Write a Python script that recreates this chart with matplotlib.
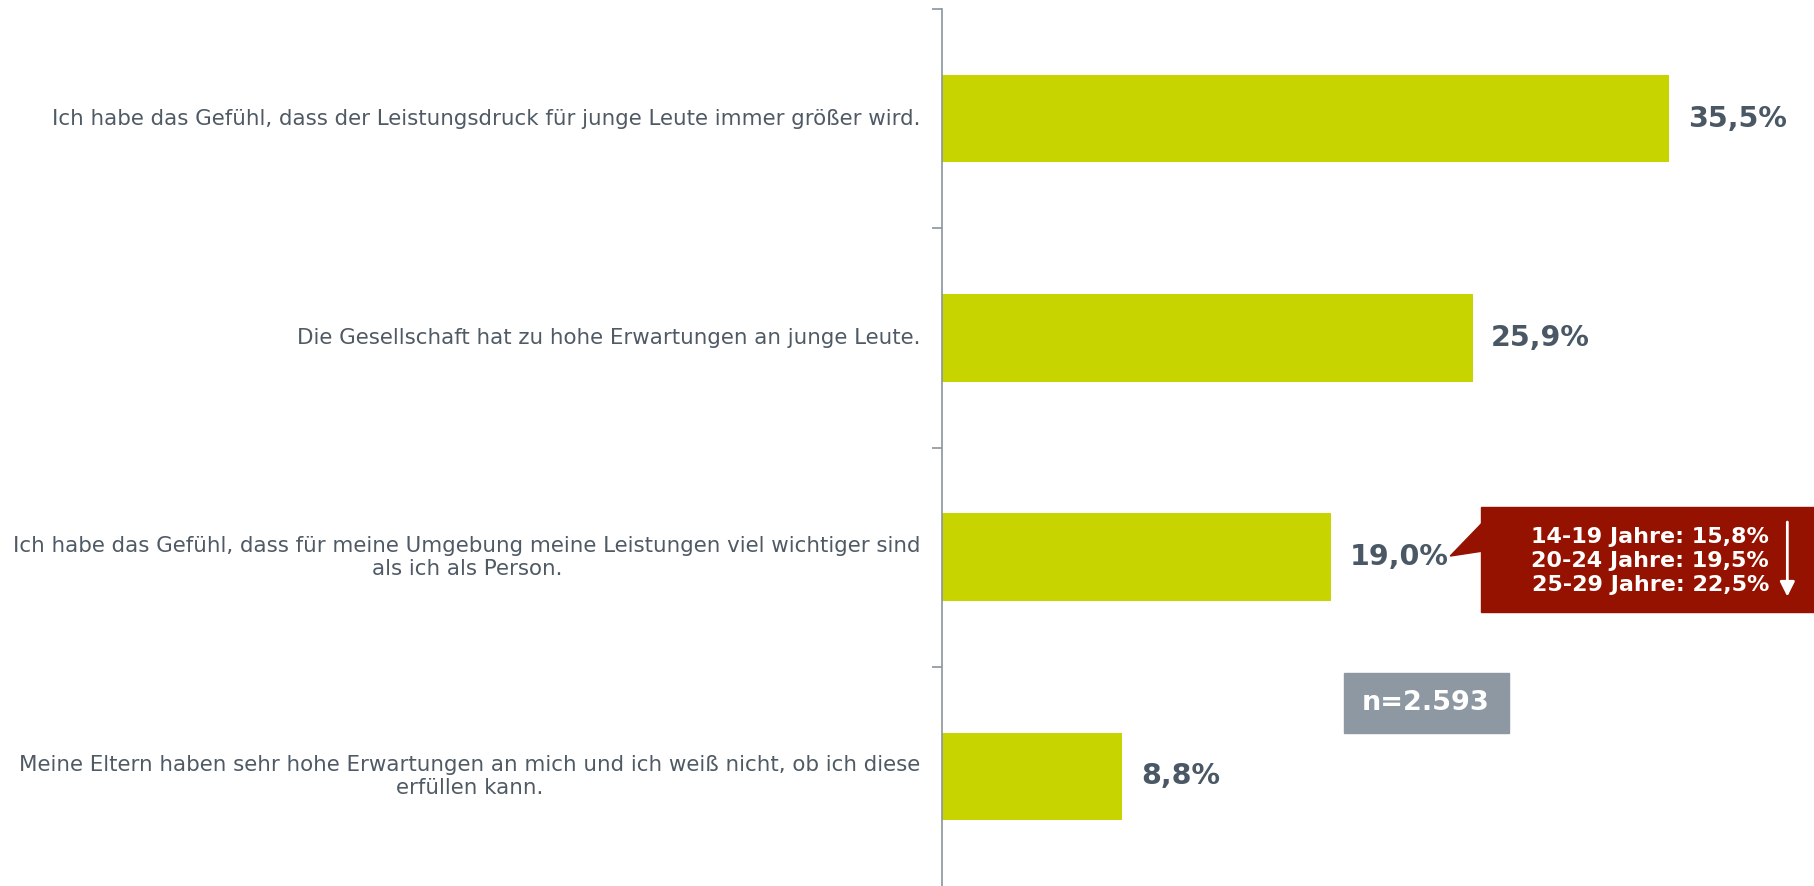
"""Horizontal bar chart: Leistungsdruck bei jungen Leuten."""

import matplotlib.pyplot as plt
from matplotlib.patches import Polygon, Rectangle

plt.rcParams["font.family"] = ["DejaVu Sans"]

categories = [
    "Ich habe das Gefühl, dass der Leistungsdruck für junge Leute immer größer wird.",
    "Die Gesellschaft hat zu hohe Erwartungen an junge Leute.",
    "Ich habe das Gefühl, dass für meine Umgebung meine Leistungen viel wichtiger sind\nals ich als Person.",
    "Meine Eltern haben sehr hohe Erwartungen an mich und ich weiß nicht, ob ich diese\nerfüllen kann.",
]
values = [35.5, 25.9, 19.0, 8.8]
value_labels = ["35,5%", "25,9%", "19,0%", "8,8%"]
age_groups = ["14-19 Jahre: 15,8%", "20-24 Jahre: 19,5%", "25-29 Jahre: 22,5%"]
sample_label = "n=2.593"

BAR_COLOR = "#c8d400"
TEXT_COLOR = "#4f5a65"
VALUE_COLOR = "#4a5866"
AXIS_COLOR = "#8a939d"
RED = "#951200"
GREY_BOX = "#8e98a2"

W, H = 1815, 886
fig = plt.figure(figsize=(W / 100, H / 100), dpi=100)
ax = fig.add_axes([942 / W, 0, (W - 942) / W, (H - 9) / H])

y = range(len(categories))
ax.barh(y, values, height=0.4, color=BAR_COLOR)
ax.set_xlim(0, 42.6)
ax.set_ylim(3.5, -0.5)

# value labels next to bars
for yi, v, lab in zip(y, values, value_labels):
    ax.text(v + 0.9, yi, lab, va="center", ha="left", fontsize=20.5,
            fontweight="bold", color=VALUE_COLOR)

# category labels, right-aligned left of the axis
for yi, cat in zip(y, categories):
    ax.text(-1.05, yi, cat, va="center", ha="right", multialignment="center",
            fontsize=15.4, color=TEXT_COLOR, clip_on=False, linespacing=1.2)

# axis styling: only left spine with ticks at category boundaries
for side in ("top", "right", "bottom"):
    ax.spines[side].set_visible(False)
ax.spines["left"].set_color(AXIS_COLOR)
ax.spines["left"].set_linewidth(1.2)
ax.set_yticks([-0.5, 0.5, 1.5, 2.5])
ax.set_yticklabels([])
ax.tick_params(axis="y", length=7, width=1.2, color=AXIS_COLOR, direction="out")
ax.set_xticks([])

# red callout with age breakdown
ax.add_patch(Rectangle((26.3, 1.77), 17.0, 0.48, color=RED, clip_on=False))
ax.add_patch(Polygon([(26.35, 1.845), (24.8, 1.995), (26.35, 1.973)],
                     closed=True, color=RED, clip_on=False))
for i, txt in enumerate(age_groups):
    ax.text(40.35, 1.908 + i * 0.11, txt, ha="right", va="center", fontsize=16,
            fontweight="bold", color="white")
ax.annotate("", xy=(41.25, 2.18), xytext=(41.25, 1.84),
            arrowprops=dict(arrowstyle="-|>", color="white", lw=2,
                            mutation_scale=22, shrinkA=0, shrinkB=0))

# sample size box
ax.add_patch(Rectangle((19.6, 2.528), 8.05, 0.274, color=GREY_BOX))
ax.text(23.62, 2.665, sample_label, ha="center", va="center", fontsize=19.5,
        fontweight="bold", color="white")

fig.savefig("out.png", dpi=100)
